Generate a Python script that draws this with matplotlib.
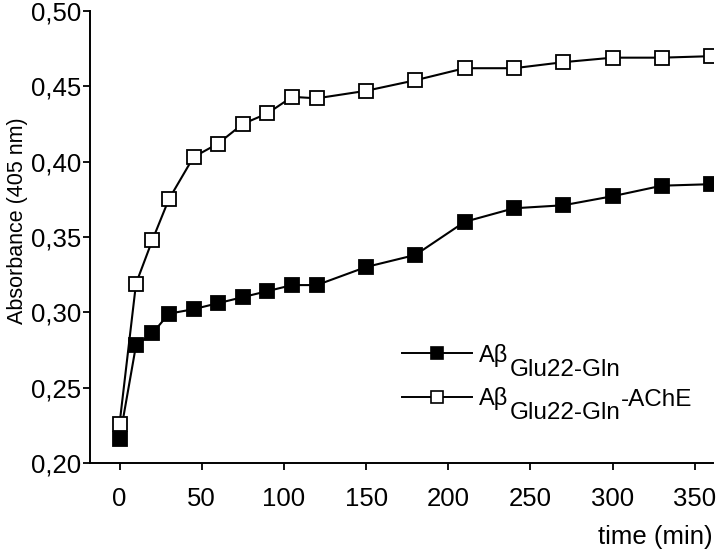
import matplotlib.pyplot as plt
from matplotlib.lines import Line2D

plt.rcParams['font.family'] = ['Liberation Sans', 'DejaVu Sans']

# values
time_min = [0, 10, 20, 30, 45, 60, 75, 90, 105, 120, 150, 180, 210, 240, 270, 300, 330, 360]
abs_gln = [0.216, 0.278, 0.286, 0.299, 0.302, 0.306, 0.310, 0.314, 0.318, 0.318,
           0.330, 0.338, 0.360, 0.369, 0.371, 0.377, 0.384, 0.385]
abs_gln_ache = [0.226, 0.319, 0.348, 0.375, 0.403, 0.412, 0.425, 0.432, 0.443, 0.442,
                0.447, 0.454, 0.462, 0.462, 0.466, 0.469, 0.469, 0.470]

x_ticks = [0, 50, 100, 150, 200, 250, 300, 350]
y_ticks = [0.20, 0.25, 0.30, 0.35, 0.40, 0.45, 0.50]
y_tick_labels = ['0,20', '0,25', '0,30', '0,35', '0,40', '0,45', '0,50']

fig = plt.figure(figsize=(7.2, 5.49), dpi=100)
ax = fig.add_axes([0.125, 0.157, 0.865, 0.823])

# filled first so the open squares sit on top at t=0
ax.plot(time_min, abs_gln, color='black', lw=1.5, marker='s', ms=9.5,
        mew=1.3, mfc='black', mec='black')
ax.plot(time_min, abs_gln_ache, color='black', lw=1.5, marker='s', ms=9.5,
        mew=1.3, mfc='white', mec='black')

ax.set_xlim(-18, 361)
ax.set_ylim(0.20, 0.50)
ax.set_xticks(x_ticks)
ax.set_yticks(y_ticks)
ax.set_yticklabels(y_tick_labels)

for side in ['top', 'right']:
    ax.spines[side].set_visible(False)
for side in ['left', 'bottom']:
    ax.spines[side].set_linewidth(1.4)
ax.tick_params(direction='out', length=5, width=1.3, labelsize=18.5)
ax.tick_params(axis='x', pad=12.5)
ax.tick_params(axis='y', pad=1.5)

ax.set_ylabel('Absorbance (405 nm)', fontsize=15.5)
ax.yaxis.set_label_coords(-0.099, 0.535)
ax.set_xlabel('time (min)', fontsize=18.5, loc='right', labelpad=10)

# legend: handles plus the "Aβ" part, subscripts added beside the legend text
handles = [
    Line2D([], [], color='black', lw=1.4, marker='s', ms=8, mew=1.2, mfc='black'),
    Line2D([], [], color='black', lw=1.4, marker='s', ms=8, mew=1.2, mfc='white'),
]
leg = ax.legend(handles, ['A\u03b2', 'A\u03b2'], loc='center left',
                bbox_to_anchor=(0.501, 0.19), frameon=False, fontsize=17,
                handlelength=2.97, handletextpad=0.3, labelspacing=0.88,
                borderpad=0, borderaxespad=0)
texts = leg.get_texts()
sub1 = ax.annotate('Glu22-Gln', xy=(1, 0), xycoords=texts[0], xytext=(1, -6.5),
                   textcoords='offset points', fontsize=17.5, va='baseline',
                   ha='left', zorder=6)
sub2 = ax.annotate('Glu22-Gln', xy=(1, 0), xycoords=texts[1], xytext=(1, -6.5),
                   textcoords='offset points', fontsize=17.5, va='baseline',
                   ha='left', zorder=6)
ax.annotate('-AChE', xy=(1, 0), xycoords=sub2, xytext=(0, 13.5),
            textcoords='offset points', fontsize=17.5, va='baseline', ha='left',
            zorder=7)

fig.savefig('out.png', dpi=100)
